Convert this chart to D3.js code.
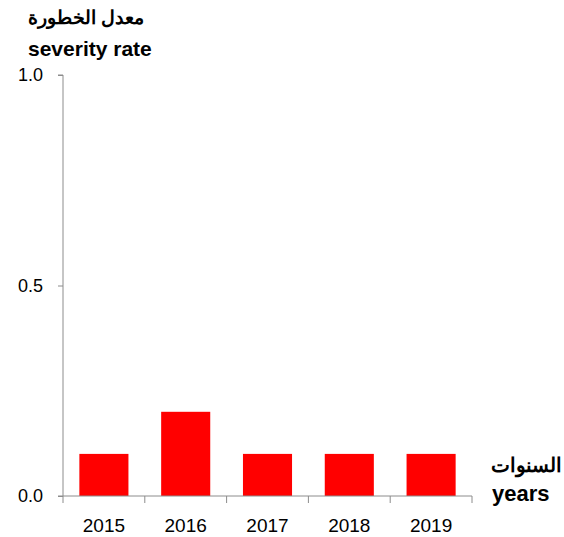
<!DOCTYPE html>
<html lang="en">
<head>
  <meta charset="UTF-8">
  <title>Severity rate</title>
  <style>
    body { margin: 0; background: #fff; font-family: "Liberation Sans", Arial, sans-serif; }
  </style>
  <script src="https://cdn.jsdelivr.net/npm/d3@7"></script>
</head>
<body>
  <script>
    var years = ["2015", "2016", "2017", "2018", "2019"];
    var severity = [0.1, 0.2, 0.1, 0.1, 0.1];
    var yTicks = [0, 0.5, 1.0];

    var W = 564, H = 537;
    var mLeft = 63, mRight = 472, mTop = 75, mBottom = 496;

    var svg = d3.select("body").append("svg")
      .attr("width", W).attr("height", H);

    var x = d3.scaleBand().domain(years).range([mLeft, mRight])
      .paddingInner(0.4).paddingOuter(0.2);
    var y = d3.scaleLinear().domain([0, 1]).range([mBottom, mTop]);

    // bars
    svg.selectAll("rect.bar")
      .data(years)
      .enter().append("rect")
      .attr("class", "bar")
      .attr("x", function(d) { return x(d); })
      .attr("y", function(d, i) { return y(severity[i]); })
      .attr("width", x.bandwidth())
      .attr("height", function(d, i) { return mBottom - y(severity[i]); })
      .attr("fill", "#ff0000");

    // y axis
    var yAxis = svg.append("g")
      .attr("transform", "translate(" + mLeft + ",0)")
      .call(d3.axisLeft(y).tickValues(yTicks).tickFormat(d3.format(".1f"))
        .tickSize(5).tickPadding(15));
    yAxis.select(".domain").attr("stroke", "#8c8c8c").attr("d", "M-5," + mTop + "H0V" + mBottom);
    yAxis.selectAll(".tick line").attr("stroke", "#8c8c8c");
    yAxis.selectAll(".tick text").attr("fill", "#000").style("font-size", "18px")
      .style("font-family", "'Liberation Sans', Arial, sans-serif");

    // x axis: ticks between categories
    var bounds = d3.range(years.length + 1).map(function(i) { return mLeft + i * (mRight - mLeft) / years.length; });
    var xg = svg.append("g");
    xg.append("line")
      .attr("x1", mLeft - 5).attr("x2", mRight)
      .attr("y1", mBottom).attr("y2", mBottom)
      .attr("stroke", "#8c8c8c");
    xg.selectAll("line.tk")
      .data(bounds)
      .enter().append("line")
      .attr("class", "tk")
      .attr("x1", function(d) { return d; }).attr("x2", function(d) { return d; })
      .attr("y1", mBottom).attr("y2", mBottom + 7)
      .attr("stroke", "#8c8c8c");
    xg.selectAll("text")
      .data(years)
      .enter().append("text")
      .attr("x", function(d) { return x(d) + x.bandwidth() / 2; })
      .attr("y", mBottom + 36)
      .attr("text-anchor", "middle")
      .style("font-size", "19px")
      .text(function(d) { return d; });

    // axis titles
    svg.append("text")
      .attr("x", 28).attr("y", 24)
      .attr("text-anchor", "start")
      .style("direction", "ltr")
      .style("font-size", "19px").style("font-weight", "bold")
      .text("معدل الخطورة");
    svg.append("text")
      .attr("x", 28).attr("y", 56)
      .style("font-size", "21px").style("font-weight", "bold")
      .text("severity rate");
    svg.append("text")
      .attr("x", 491).attr("y", 472)
      .attr("text-anchor", "start")
      .style("direction", "ltr")
      .style("font-size", "20px").style("font-weight", "bold")
      .text("السنوات");
    svg.append("text")
      .attr("x", 492).attr("y", 501)
      .style("font-size", "22px").style("font-weight", "bold")
      .text("years");
  </script>
</body>
</html>
